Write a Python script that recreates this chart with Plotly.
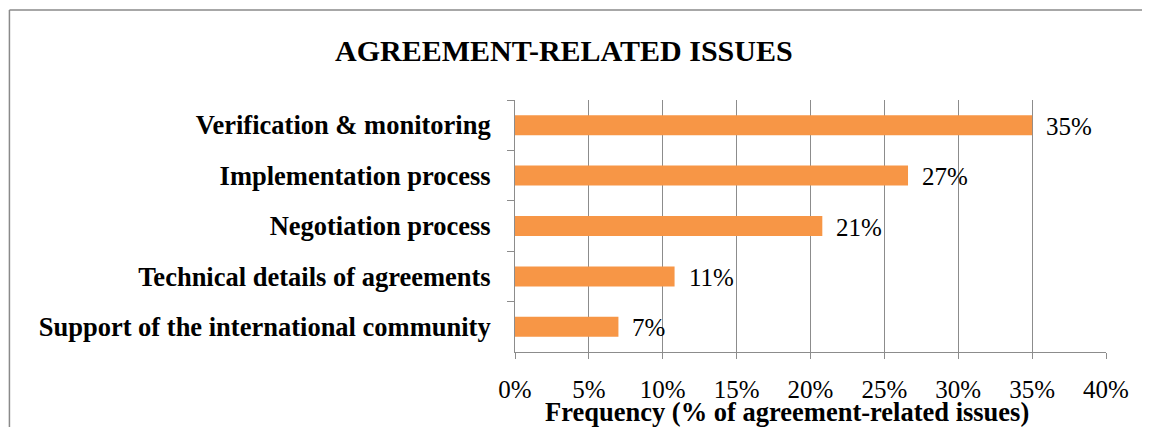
import plotly.graph_objects as go

categories = [
    "Verification & monitoring",
    "Implementation process",
    "Negotiation process",
    "Technical details of agreements",
    "Support of the international community",
]
values = [35.0, 26.6, 20.8, 10.8, 7.0]
value_labels = ["35%", "27%", "21%", "11%", "7%"]
tick_values = [0, 5, 10, 15, 20, 25, 30, 35, 40]
tick_labels = ["0%", "5%", "10%", "15%", "20%", "25%", "30%", "35%", "40%"]

SERIF = "Liberation Serif, Times New Roman, serif"
GRID = "#8c8c8c"

OFF = 8  # page body margin
W, H = 1150 - OFF, 427 - OFF
L, R = 515 - OFF, 1106.5 - OFF
T, B = 100 - OFF, 352 - OFF

fig = go.Figure()
fig.add_trace(go.Bar(
    x=values, y=categories, orientation="h",
    marker=dict(color="#F79646", line=dict(width=0)),
    hoverinfo="skip",
))

for v, c, lab in zip(values, categories, value_labels):
    fig.add_annotation(x=v, y=c, xref="x", yref="y", text=lab, showarrow=False,
                       xanchor="left", yanchor="middle", xshift=12, yshift=-1,
                       font=dict(family=SERIF, size=25, color="black"))

def px_x(p):  # page pixel -> paper
    return (p - OFF - L) / (R - L)

def px_y(p):
    return (B - (p - OFF)) / (B - T)

# outer chart border (left and top visible)
fig.add_shape(type="line", xref="paper", yref="paper",
              x0=px_x(9), x1=px_x(9), y0=px_y(10), y1=px_y(427),
              line=dict(color="#8a8a8a", width=1.5))
fig.add_shape(type="line", xref="paper", yref="paper",
              x0=px_x(9), x1=px_x(1150), y0=px_y(10), y1=px_y(10),
              line=dict(color="#8a8a8a", width=1.5))

# title
fig.add_annotation(xref="paper", yref="paper", x=px_x(564), y=px_y(50),
                   text="AGREEMENT-RELATED ISSUES", showarrow=False,
                   xanchor="center", yanchor="middle",
                   font=dict(family=SERIF, size=30, color="black", weight="bold"))
# x axis title
fig.add_annotation(xref="paper", yref="paper", x=px_x(787), y=px_y(412),
                   text="Frequency (% of agreement-related issues)", showarrow=False,
                   xanchor="center", yanchor="middle",
                   font=dict(family=SERIF, size=26.5, color="black", weight="bold"))

fig.update_layout(
    width=W, height=H,
    margin=dict(l=L, r=W - R, t=T, b=H - B, pad=0),
    paper_bgcolor="white", plot_bgcolor="white",
    bargap=0.603,
    showlegend=False,
    xaxis=dict(
        range=[0, 40], tickvals=tick_values, ticktext=tick_labels,
        showgrid=True, gridcolor=GRID, gridwidth=1,
        showline=True, linecolor=GRID, linewidth=1,
        ticks="outside", ticklen=6, tickcolor=GRID,
        ticklabelstandoff=9,
        tickfont=dict(family=SERIF, size=25, color="black"),
        zeroline=False, fixedrange=True,
    ),
    yaxis=dict(
        autorange="reversed",
        showgrid=False,
        showline=True, linecolor=GRID, linewidth=1,
        ticks="outside", ticklen=7, tickcolor=GRID, tickson="boundaries",
        ticklabelstandoff=18,
        tickfont=dict(family=SERIF, size=26.5, color="black", weight="bold"),
        fixedrange=True,
    ),
)

fig.write_html(
    "out.html",
    config={"displayModeBar": False},
    post_script="document.documentElement.style.overflow='hidden';"
                "document.body.style.overflow='hidden';",
)
